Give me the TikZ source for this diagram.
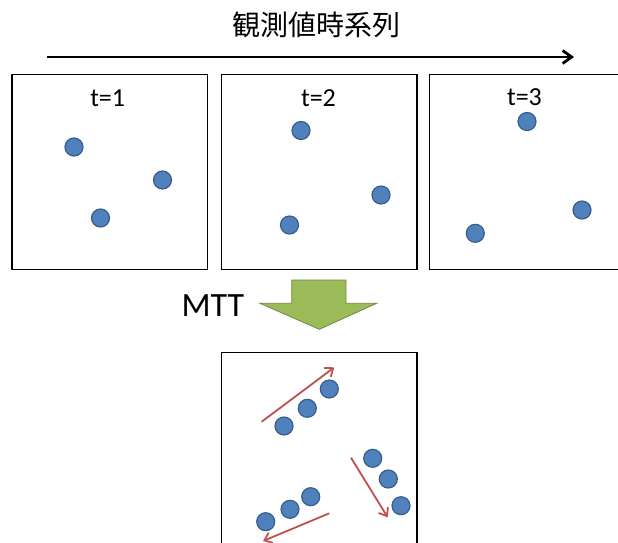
\documentclass[tikz,border=0pt]{standalone}
\usepackage{fontspec}
\setmainfont{Carlito}
\newfontfamily\jpfont{Noto Sans CJK JP}
\usetikzlibrary{calc,arrows.meta}

\definecolor{dotblue}{HTML}{4F81BD}
\definecolor{dotedge}{HTML}{385D8A}
\definecolor{trackred}{HTML}{C0504D}
\definecolor{mttgreen}{HTML}{9BBB59}
\definecolor{mttedge}{HTML}{71893F}

\begin{document}
\begin{tikzpicture}[x=1pt,y=-1pt,
    panel/.style={draw=black,line width=1.5pt,minimum width=195.5pt,
        minimum height=195pt,anchor=north west,inner sep=0pt,outer sep=0pt},
    obs/.style={circle,draw=dotedge,fill=dotblue,line width=1.2pt,
        minimum size=18pt,inner sep=0pt},
    track/.style={draw=trackred,line width=1.8pt,
        -{Straight Barb[length=7pt,width=11pt,line width=1.8pt]}},
    tlabel/.style={font=\fontsize{26}{26}\selectfont,inner sep=0pt}]

    \useasboundingbox (0,0) rectangle (618,542);

    % time axis
    \node[font=\jpfont\fontsize{28}{28}\selectfont] (title) at (316.5,25) {観測値時系列};
    \coordinate (ts) at (47,57);
    \coordinate (te) at (574,57);
    \draw[line width=2.8pt,-{Straight Barb[length=9pt,width=13pt,line width=2.8pt]}] (ts) -- (te);

    % observation frames
    \node[panel] (p1) at (12,74.5) {};
    \node[panel] (p2) at (221.7,74.5) {};
    \node[panel] (p3) at (429.5,74.5) {};
    \node[tlabel] (l1) at (107.7,98) {t=1};
    \node[tlabel] (l2) at (318.5,98) {t=2};
    \node[tlabel] (l3) at (524.5,97) {t=3};

    \foreach \nm/\px/\py in {a1/74/147, a2/162.5/180, a3/100.5/218,
                             b1/301/130.5, b2/381/195, b3/289.5/225,
                             c1/527/121.5, c2/582/210, c3/475.3/233.3}
        \node[obs] (\nm) at (\px,\py) {};

    % MTT step
    \node[font=\fontsize{34}{34}\selectfont,inner sep=0pt] (mtt) at (213,305.3) {MTT};
    \draw[fill=mttgreen,draw=mttedge,line width=0.8pt]
        (291.7,280) -- (346,280) -- (346,303.3) -- (376.7,303.3)
        -- (319.3,329.3) -- (260,303.3) -- (291.7,303.3) -- cycle;

    % tracking result
    \node[panel] (p4) at (221.7,352.7) {};
    \foreach \nm/\px/\py in {d1/284/426, d2/307.3/408.3, d3/329.3/389,
                             e1/372.7/458.3, e2/388.3/479, e3/401/505.7,
                             f1/265.7/521.7, f2/290/509.3, f3/310.7/496.7}
        \node[obs] (\nm) at (\px,\py) {};

    \coordinate (ds) at (261.7,421.7);
    \coordinate (de) at (334.3,367.3);
    \coordinate (es) at (351,457.7);
    \coordinate (ee) at (387.7,517.3);
    \coordinate (fs) at (329.3,513.3);
    \coordinate (fe) at (263,541);
    \draw[track] (ds) -- (de);
    \draw[track] (es) -- (ee);
    \draw[track] (fs) -- (fe);

\end{tikzpicture}
\end{document}
